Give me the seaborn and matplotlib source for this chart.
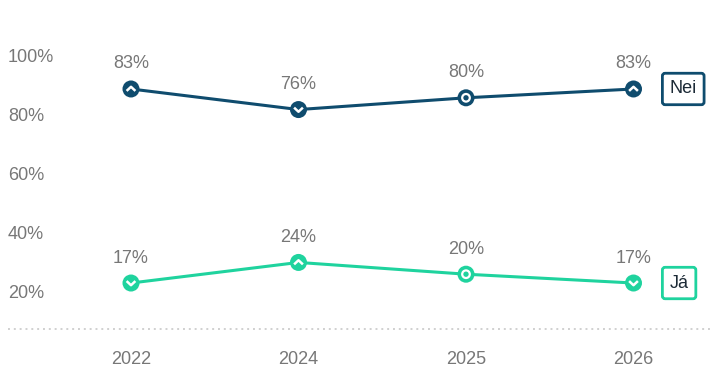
import numpy as np, pandas as pd
import matplotlib as mpl, matplotlib.pyplot as plt
import seaborn as sns
from matplotlib.path import Path
from matplotlib.transforms import ScaledTranslation

# data
years = ["2022", "2024", "2025", "2026"]
nei = [83, 76, 80, 83]
ja = [17, 24, 20, 17]
nei_sym = ["up", "down", "dot", "up"]
ja_sym = ["down", "up", "dot", "down"]
yticks = [20, 40, 60, 80, 100]

NEI_C = "#0f4c6e"; JA_C = "#1fd39e"; GREY = "#777777"

sns.set_theme(style="white")
plt.rcParams["font.family"] = ["Liberation Sans", "DejaVu Sans"]

df = pd.DataFrame({"year": years * 2, "val": nei + ja,
                   "grp": ["Nei"] * 4 + ["Já"] * 4})
df["x"] = np.tile(np.arange(len(years)), 2)

fig = plt.figure(figsize=(7.13, 3.85), dpi=100)
ax = fig.add_axes([8 / 713, 52 / 385, 705 / 713, 294 / 385])
ax.set_xlim((8 - 131) / 167.5, (713 - 131) / 167.5)
ax.set_ylim(0, 100)

pal = {"Nei": NEI_C, "Já": JA_C}
sns.lineplot(data=df, x="x", y="val", hue="grp", palette=pal, lw=2.2,
             legend=False, ax=ax, zorder=2)
sns.scatterplot(data=df, x="x", y="val", hue="grp", palette=pal, s=150,
                edgecolor="none", legend=False, ax=ax, zorder=3)

up = Path([(-0.5, -0.22), (0, 0.25), (0.5, -0.22)], [Path.MOVETO, Path.LINETO, Path.LINETO])
down = Path([(-0.5, 0.22), (0, -0.25), (0.5, 0.22)], [Path.MOVETO, Path.LINETO, Path.LINETO])
for vals, syms in [(nei, nei_sym), (ja, ja_sym)]:
    for i, (v, s) in enumerate(zip(vals, syms)):
        if s == "dot":
            ax.scatter(i, v, s=30, marker="o", facecolor="none", edgecolor="white", lw=1.6, zorder=4)
        else:
            ax.scatter(i, v, s=40, marker=up if s == "up" else down, facecolor="none",
                       edgecolor="white", lw=1.8, zorder=4)
        ax.annotate(f"{v}%", (i, v), xytext=(0, 18), textcoords="offset points",
                    ha="center", va="center", fontsize=13, color=GREY)

# end labels
for lab, vals, c in [("Nei", nei, NEI_C), ("Já", ja, JA_C)]:
    ax.annotate(lab, (len(years) - 1, vals[-1]), xytext=(26, 0), textcoords="offset points",
                ha="left", va="center", fontsize=13, color="#1c2a36",
                bbox=dict(boxstyle="round,pad=0.4,rounding_size=0.15", fc="white", ec=c, lw=2))

# dotted baseline
ax.axhline(1.3, color="#d0d0d0", ls=(0, (1, 2)), lw=1.4, zorder=1)

ax.set_xticks(range(len(years)))
ax.set_xticklabels(years, fontsize=13, color=GREY)
ax.tick_params(axis="x", length=0, pad=13)
ax.set_yticks(yticks)
ax.set_yticklabels([f"{t}%" for t in yticks], fontsize=13, color=GREY, ha="left")
ax.tick_params(axis="y", length=0, pad=0)
off = ScaledTranslation(0, -17 / 100, fig.dpi_scale_trans)
for lbl in ax.get_yticklabels():
    lbl.set_transform(mpl.transforms.blended_transform_factory(ax.transAxes, ax.transData) + off)
    lbl.set_x(0)
ax.set_xlabel(None); ax.set_ylabel(None)
sns.despine(ax=ax, left=True, bottom=True)

fig.savefig("out.png", dpi=100)
